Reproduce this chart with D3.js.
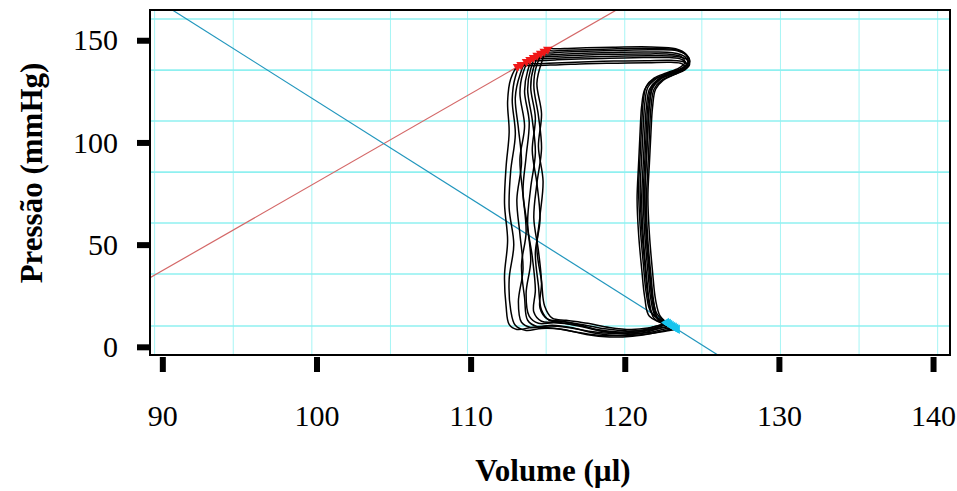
<!DOCTYPE html>
<html>
<head>
<meta charset="utf-8">
<script src="https://cdn.jsdelivr.net/npm/d3@7"></script>
<style>
  body { margin: 0; background: #fff; }
  text { font-family: "Liberation Serif", "Times New Roman", serif; }
</style>
</head>
<body>
<div class="canvas"></div>
<script>
// tick labels and grid positions
const xTicks = [90, 100, 110, 120, 130, 140];
const yTicks = [0, 50, 100, 150];
const xGrid = [89.5, 94.6, 99.7, 104.8, 109.8, 114.9, 120.0, 125.0, 130.1, 135.2, 140.3];
const yGrid = [10.2, 35.6, 60.6, 85.5, 110.5, 135.4, 160.4];

// fitted lines: ESPVR (red) and the line through end-diastolic points (blue)
const espvr = {slope: 4.33, v0: 81.4};
const edLine = {slope: -4.77, v0: 125.2};

// pressure-volume loops [volume µl, pressure mmHg], start = end-diastole, index 21 = end-systole
const loopA = [[123.0,10.5],[121.6,15],[121.3,24],[121.1,38],[120.9,55],[120.8,72],[120.9,90],[121.0,106],[121.1,118],[121.3,126],[121.8,130.5],[122.6,133],[123.4,135],[123.9,136.8],[123.7,138.6],[123.0,139.2],[121.5,139],[119.5,138.8],[117.5,138.5],[115.8,138],[114.2,137.6],[113.04,137],[112.6,131],[112.4,120],[112.5,105],[112.3,88],[112.2,70],[112.4,52],[112.2,35],[112.3,20],[112.5,11],[113.0,8.5],[114.0,9.5],[115.5,9],[117.0,7],[118.5,5.5],[120.0,5.8],[121.3,7],[122.3,9.2],[123.0,10.5]];
const loopB = [[123.3,9.1],[122.1,14],[121.8,22],[121.6,36],[121.4,54],[121.3,73],[121.4,92],[121.5,107],[121.6,119],[121.8,127],[122.3,131],[123.1,133.5],[123.8,135.5],[124.1,137.5],[123.8,139.5],[123.0,140.2],[121.4,140],[119.3,139.8],[117.2,139.4],[115.5,138.9],[114.2,138.5],[113.27,138],[112.9,132],[112.7,121],[112.9,104],[112.6,86],[112.5,68],[112.8,50],[112.5,33],[112.6,18],[112.9,10.5],[113.6,8],[114.6,9],[116,8.5],[117.5,6],[119,4.8],[120.5,5.2],[121.7,6.5],[122.6,8],[123.3,9.1]];
const loopC = [[122.8,11.4],[121.8,16],[121.5,25],[121.3,40],[121.1,58],[121.0,76],[121.1,93],[121.2,108],[121.3,119],[121.5,127],[122.0,131],[122.8,133.8],[123.6,136],[124.0,138.3],[123.7,140.6],[122.9,141.5],[121.2,141.5],[119.0,141.2],[117.0,140.8],[115.6,140.4],[114.5,140],[113.62,139.5],[113.2,133],[112.9,122],[113.1,107],[113.3,90],[113.0,72],[113.2,55],[113.4,38],[113.1,22],[113.3,12],[113.9,9.5],[115.0,10.2],[116.3,9.5],[117.8,7.5],[119.3,6.5],[120.7,7],[121.8,8.8],[122.4,10.3],[122.8,11.4]];
const loopD = [[123.4,8.6],[122.2,13],[121.9,21],[121.7,35],[121.5,52],[121.4,70],[121.5,88],[121.6,104],[121.7,117],[121.9,126],[122.4,130.5],[123.2,133.2],[123.9,135.5],[124.2,138],[124.0,140.8],[123.2,142.2],[121.6,142.4],[119.4,142.2],[117.4,141.8],[115.8,141.3],[114.7,140.9],[113.85,140.5],[113.4,134],[113.2,124],[113.5,108],[113.2,92],[113.4,74],[113.6,56],[113.3,40],[113.5,24],[113.7,13],[114.3,10],[115.3,10.6],[116.6,9.3],[118.0,6.8],[119.5,5.5],[120.9,5.8],[122.1,7],[122.9,8],[123.4,8.6]];
const loopE = [[122.7,11.9],[121.7,17],[121.4,26],[121.2,41],[121.0,59],[120.9,77],[121.0,94],[121.1,109],[121.2,120],[121.4,127.5],[121.9,131.5],[122.7,134],[123.5,136.3],[123.9,139],[123.7,141.8],[122.9,143.1],[121.2,143.3],[119.0,143.1],[117.0,142.6],[115.6,142.2],[114.7,141.8],[114.08,141.5],[113.7,135],[113.5,125],[113.8,110],[113.6,93],[113.4,76],[113.7,58],[113.9,42],[113.6,26],[113.8,15],[114.4,11.5],[115.4,11.8],[116.8,10.8],[118.2,8.5],[119.7,7.3],[121.0,8],[121.9,9.8],[122.4,11],[122.7,11.9]];
const loopF = [[123.1,10],[122.0,15],[121.7,23],[121.5,37],[121.3,55],[121.2,74],[121.3,91],[121.4,106],[121.5,118],[121.7,126.5],[122.2,131],[123.0,133.6],[123.7,135.8],[124.1,138.8],[123.9,142],[123.1,143.9],[121.4,144.2],[119.2,144],[117.3,143.6],[115.9,143.2],[115.0,142.8],[114.31,142.5],[113.9,136],[113.7,126],[114.0,111],[114.2,95],[113.9,78],[113.7,60],[114.0,44],[114.2,28],[114.1,17],[114.6,12.5],[115.6,12],[117.0,10.2],[118.4,7.8],[119.9,6.8],[121.2,7.5],[122.2,9],[122.8,9.7],[123.1,10]];
const loopG = [[122.9,10.9],[122.3,15],[122.0,23],[121.8,37],[121.6,55],[121.5,73],[121.6,90],[121.7,105],[121.8,117],[122.0,126],[122.5,130.5],[123.2,133.2],[123.8,135.5],[124.2,138.5],[124.1,142],[123.4,144.8],[121.8,145.3],[119.5,145],[117.5,144.6],[116.1,144.2],[115.2,143.8],[114.54,143.5],[114.1,137],[113.9,127],[114.2,112],[114.0,96],[114.3,80],[114.5,62],[114.2,46],[114.4,30],[114.6,18],[115.1,13],[116.0,12.3],[117.3,10.8],[118.7,8.8],[120.2,7.8],[121.4,8.4],[122.2,9.8],[122.6,10.5],[122.9,10.9]];
const loopH = [[123.2,9.6],[121.9,14],[121.6,22],[121.4,36],[121.2,54],[121.1,72],[121.2,90],[121.3,105],[121.4,117],[121.6,126],[122.1,130.5],[122.9,133.3],[123.7,135.8],[124.1,139],[124.0,142.5],[123.4,145.2],[121.8,146],[119.5,145.8],[117.5,145.4],[116.2,145.1],[115.4,144.8],[114.77,144.5],[114.3,138],[114.1,128],[114.4,113],[114.6,97],[114.3,80],[114.1,63],[114.4,47],[114.6,31],[114.5,19],[115.0,13.5],[116.0,12.5],[117.4,10],[118.8,7.2],[120.3,6.3],[121.6,7],[122.5,8.6],[123.0,9.3],[123.2,9.6]];
const loopI = [[122.8,11.4],[122.1,16],[121.8,24],[121.6,38],[121.4,56],[121.3,75],[121.4,92],[121.5,107],[121.6,118],[121.8,126.5],[122.3,131],[123.1,133.8],[123.8,136.3],[124.2,139.5],[124.0,143],[123.3,145.8],[121.7,146.7],[119.4,146.6],[117.5,146.3],[116.3,146],[115.6,145.8],[115.0,145.5],[114.6,139],[114.3,129],[114.6,114],[114.4,98],[114.7,81],[114.5,64],[114.3,48],[114.6,32],[114.8,20],[115.3,14],[116.2,13],[117.6,11.5],[119.0,9.5],[120.4,8.5],[121.5,9.2],[122.2,10.5],[122.6,11.1],[122.8,11.4]];

const loops = [loopA, loopB, loopC, loopD, loopE, loopF, loopG, loopH, loopI];
const esIndex = 21;

const dims = {width: 957, height: 491};
const plot = {left: 150, top: 10, right: 950, bottom: 355};

const svg = d3.select(".canvas").append("svg")
    .attr("width", dims.width)
    .attr("height", dims.height);

const x = d3.scaleLinear().domain([89.2, 141.1]).range([plot.left, plot.right]);
const y = d3.scaleLinear().domain([-4, 164.8]).range([plot.bottom, plot.top]);

svg.append("clipPath").attr("id", "clip")
  .append("rect")
    .attr("x", plot.left).attr("y", plot.top)
    .attr("width", plot.right - plot.left).attr("height", plot.bottom - plot.top);

// grid
const grid = svg.append("g").attr("clip-path", "url(#clip)");
grid.selectAll(".gx").data(xGrid).enter().append("line")
    .attr("x1", d => x(d)).attr("x2", d => x(d))
    .attr("y1", plot.top).attr("y2", plot.bottom)
    .attr("stroke", "#a6f5f5").attr("stroke-width", 1);
grid.selectAll(".gy").data(yGrid).enter().append("line")
    .attr("x1", plot.left).attr("x2", plot.right)
    .attr("y1", d => y(d)).attr("y2", d => y(d))
    .attr("stroke", "#8ff0f0").attr("stroke-width", 1.6);

const graph = svg.append("g").attr("clip-path", "url(#clip)");

// straight lines spanning the x domain
const lineEnds = (l) => x.domain().map(v => [v, l.slope * (v - l.v0)]);
const straight = d3.line().x(d => x(d[0])).y(d => y(d[1]));

graph.append("path")
    .attr("d", straight(lineEnds(espvr)))
    .attr("fill", "none").attr("stroke", "#d46868").attr("stroke-width", 1.2);
graph.append("path")
    .attr("d", straight(lineEnds(edLine)))
    .attr("fill", "none").attr("stroke", "#2196bd").attr("stroke-width", 1.2);

// loops
const loopPath = d3.line()
    .x(d => x(d[0])).y(d => y(d[1]))
    .curve(d3.curveCatmullRom.alpha(0.5));

graph.selectAll(".loop").data(loops).enter().append("path")
    .attr("class", "loop")
    .attr("d", loopPath)
    .attr("fill", "none")
    .attr("stroke", "#000")
    .attr("stroke-width", 1.5);

// end-systolic (red) and end-diastolic (cyan) markers
const tri = d3.symbol().type(d3.symbolTriangle).size(38);
graph.selectAll(".es").data(loops).enter().append("path")
    .attr("d", tri)
    .attr("transform", d => `translate(${x(d[esIndex][0])},${y(d[esIndex][1])}) rotate(60)`)
    .attr("fill", "#f01818");
graph.selectAll(".ed").data(loops).enter().append("path")
    .attr("d", tri)
    .attr("transform", d => `translate(${x(d[0][0])},${y(d[0][1])}) rotate(30)`)
    .attr("fill", "#18c4ee");

// frame
svg.append("rect")
    .attr("x", plot.left).attr("y", plot.top)
    .attr("width", plot.right - plot.left).attr("height", plot.bottom - plot.top)
    .attr("fill", "none").attr("stroke", "#000").attr("stroke-width", 2);

// axes
const yAxis = d3.axisLeft(y).tickValues(yTicks).tickSize(13).tickPadding(19).tickFormat(d3.format("d"));
const xAxis = d3.axisBottom(x).tickValues(xTicks).tickSize(15).tickPadding(33).tickFormat(d3.format("d"));

const yAxisGroup = svg.append("g").attr("transform", `translate(${plot.left},0)`).call(yAxis);
const xAxisGroup = svg.append("g").attr("transform", `translate(0,${plot.bottom + 2})`).call(xAxis);

[yAxisGroup, xAxisGroup].forEach(g => {
    g.select(".domain").remove();
    g.selectAll(".tick line").attr("stroke", "#000").attr("stroke-width", 6);
    g.selectAll(".tick text")
        .attr("fill", "#000")
        .style("font-family", "'Liberation Serif', serif")
        .style("font-size", "30px");
});

// titles
svg.append("text")
    .attr("transform", "translate(42,173) rotate(-90)")
    .attr("text-anchor", "middle")
    .style("font-size", "31px").style("font-weight", "bold")
    .text("Pressão (mmHg)");

svg.append("text")
    .attr("x", 553).attr("y", 481)
    .attr("text-anchor", "middle")
    .style("font-size", "31px").style("font-weight", "bold")
    .text("Volume (µl)");
</script>
</body>
</html>
